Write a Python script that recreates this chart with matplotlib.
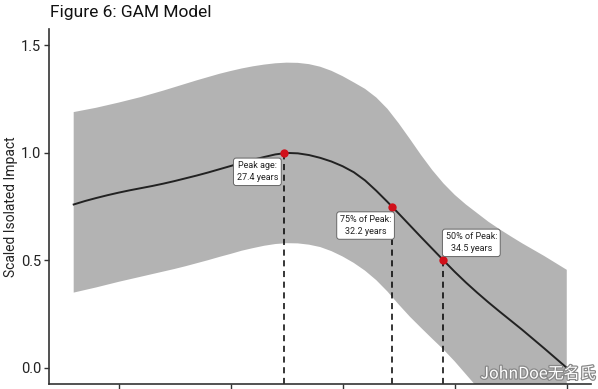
import matplotlib
matplotlib.use('Agg')
import matplotlib.pyplot as plt
import matplotlib.patheffects as pe

plt.rcParams['font.family'] = ['Roboto', 'DejaVu Sans']

# GAM fit and confidence band (age in years, half-year steps)
ages = [18, 18.5, 19, 19.5, 20, 20.5, 21, 21.5, 22, 22.5, 23, 23.5, 24, 24.5, 25,
        25.5, 26, 26.5, 27, 27.5, 28, 28.5, 29, 29.5, 30, 30.5, 31, 31.5, 32, 32.5,
        33, 33.5, 34, 34.5, 35, 35.5, 36, 36.5, 37, 37.5, 38, 38.5, 39, 39.5, 40]
fit = [0.760, 0.776, 0.790, 0.803, 0.815, 0.826, 0.836, 0.846, 0.857, 0.869, 0.882,
       0.895, 0.909, 0.924, 0.939, 0.954, 0.968, 0.981, 0.993, 1.000, 0.998, 0.990,
       0.977, 0.960, 0.938, 0.910, 0.872, 0.824, 0.772, 0.718, 0.663, 0.608, 0.554,
       0.500, 0.447, 0.397, 0.350, 0.305, 0.262, 0.220, 0.178, 0.134, 0.090, 0.045, 0.0]
upper = [1.190, 1.200, 1.210, 1.222, 1.234, 1.247, 1.260, 1.275, 1.290, 1.306, 1.322,
         1.338, 1.353, 1.368, 1.381, 1.393, 1.403, 1.411, 1.417, 1.420, 1.419, 1.413,
         1.401, 1.382, 1.357, 1.328, 1.298, 1.258, 1.205, 1.138, 1.065, 0.990, 0.920,
         0.858, 0.805, 0.760, 0.720, 0.680, 0.645, 0.612, 0.580, 0.550, 0.520, 0.488, 0.456]
lower = [0.350, 0.362, 0.374, 0.387, 0.400, 0.412, 0.424, 0.436, 0.448, 0.460, 0.473,
         0.487, 0.501, 0.516, 0.530, 0.545, 0.557, 0.568, 0.576, 0.580, 0.579, 0.573,
         0.562, 0.543, 0.518, 0.488, 0.452, 0.408, 0.355, 0.295, 0.238, 0.186, 0.135,
         0.085, 0.030, -0.030, -0.090, -0.150, -0.210, -0.270, -0.330, -0.390, -0.450,
         -0.500, -0.550]

# key points on the curve
key_ages = [27.4, 32.2, 34.5]
key_vals = [1.0, 0.75, 0.5]
key_labels = ['Peak age:\n27.4 years', '75% of Peak:\n32.2 years', '50% of Peak:\n34.5 years']

x_ticks = [20, 25, 30, 35, 40]
y_ticks = [0.0, 0.5, 1.0, 1.5]
y_ticklabels = ['0.0', '0.5', '1.0', '1.5']

fig = plt.figure(figsize=(5.98, 3.89), dpi=100)
ax = fig.add_axes([0.082, 0.013, 0.907, 0.9116])

ax.fill_between(ages, lower, upper, color='#b3b3b3', linewidth=0, zorder=1)
ax.plot(ages, fit, color='#222222', lw=1.4, zorder=3, solid_joinstyle='round')

ymin, ymax = -0.075, 1.575
for a, v in zip(key_ages, key_vals):
    ax.plot([a, a], [ymin, v], color='black', lw=1.1, ls=(0, (4, 3)), zorder=2)
ax.scatter(key_ages, key_vals, s=36, color='#d0101a', zorder=5, linewidths=0)

# label offsets (points) and alignment
label_pos = [(-4.5, -6, 'right', 'top'),
             (-0.5, -6, 'right', 'top'),
             (1.5, 5, 'left', 'bottom')]
for a, v, txt, (dx, dy, ha, va) in zip(key_ages, key_vals, key_labels, label_pos):
    ax.annotate(txt, xy=(a, v), xytext=(dx, dy), textcoords='offset points',
                ha=ha, va=va, fontsize=6.5, color='#222222', multialignment='center',
                linespacing=1.45, zorder=6,
                bbox=dict(boxstyle='round,pad=0.35,rounding_size=0.3',
                          fc='white', ec='#666666', lw=0.7))

ax.set_xlim(16.9, 41.1)
ax.set_ylim(ymin, ymax)
ax.set_xticks(x_ticks)
ax.set_xticklabels([])
ax.set_yticks(y_ticks)
ax.set_yticklabels(y_ticklabels, fontsize=10.5, color='#222222')

for s in ['top', 'right']:
    ax.spines[s].set_visible(False)
for s in ['left', 'bottom']:
    ax.spines[s].set_color('#333333')
    ax.spines[s].set_linewidth(1.2)
ax.tick_params(length=3.5, width=1, color='#333333', pad=2)

ax.set_ylabel('Scaled Isolated Impact', fontsize=10, color='#222222')
ax.yaxis.set_label_coords(-0.058, 0.5)

fig.text(50 / 598, 1 - 17.5 / 389, 'Figure 6: GAM Model', fontsize=12.5,
         color='#111111', ha='left', va='baseline')

# watermark of the source image
fig.text(596 / 598, 1 - 374 / 389, 'JohnDoe无名氏', fontsize=11.5, color='white',
         ha='right', va='center', family=['Noto Sans CJK SC', 'DejaVu Sans'],
         path_effects=[pe.withStroke(linewidth=1.8, foreground='#888888')])

fig.savefig('out.png', dpi=100)
